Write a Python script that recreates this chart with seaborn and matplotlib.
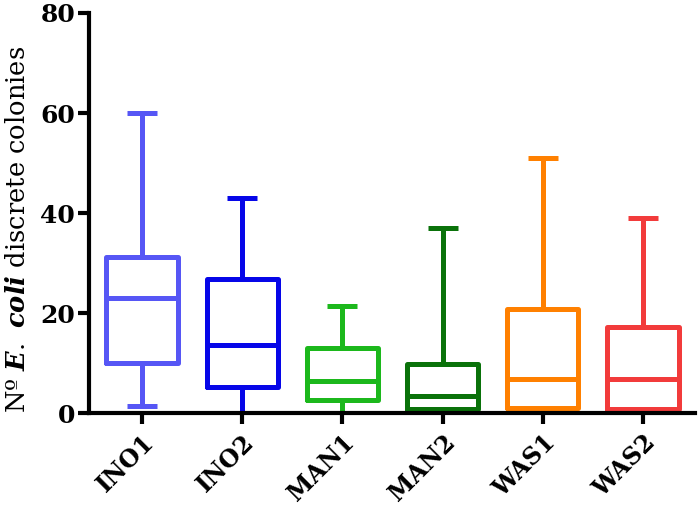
import numpy as np
import pandas as pd
import seaborn as sns
import matplotlib.pyplot as plt

categories = ["INO1", "INO2", "MAN1", "MAN2", "WAS1", "WAS2"]
mins = [1.5, 0, 0, 0, 0, 0]
q1s = [10, 5.2, 2.6, 0.8, 1.0, 0.8]
medians = [23, 13.6, 6.4, 3.4, 6.8, 6.8]
q3s = [31.2, 26.8, 13.0, 9.8, 20.8, 17.2]
maxs = [60, 43, 21.5, 37, 51, 39]
colors = ["#5656F5", "#0606E8", "#1CB81C", "#0A720A", "#FF8000", "#F23B3B"]

rows = []
for c, a, b, m, d, e in zip(categories, mins, q1s, medians, q3s, maxs):
    for v in (a, b, m, d, e):
        rows.append((c, v))
df = pd.DataFrame(rows, columns=["group", "count"])

sns.set_theme(style="ticks")
plt.rcParams["font.family"] = ["DejaVu Serif"]
plt.rcParams["text.color"] = "black"
plt.rcParams["xtick.color"] = "black"
plt.rcParams["ytick.color"] = "black"
plt.rcParams["axes.labelcolor"] = "black"
plt.rcParams["mathtext.fontset"] = "custom"
plt.rcParams["mathtext.rm"] = "DejaVu Serif"
plt.rcParams["mathtext.it"] = "DejaVu Serif:italic:bold"

fig = plt.figure(figsize=(7, 5.19), dpi=100)
ax = fig.add_axes([0.127, 0.204, 0.866, 0.771])
sns.boxplot(data=df, x="group", y="count", hue="group", palette=colors,
            fill=False, whis=(0, 100), width=0.71, linewidth=3.6,
            showfliers=False, legend=False, ax=ax)

# narrow the whisker caps
for ln in ax.lines:
    x = np.asarray(ln.get_xdata(), dtype=float)
    y = np.asarray(ln.get_ydata(), dtype=float)
    if len(x) == 2 and y[0] == y[1]:
        w = abs(x[1] - x[0])
        if 0.2 < w < 0.6:
            c = x.mean()
            ln.set_xdata([c - 0.15, c + 0.15])
            ln.set_solid_capstyle("butt")

ax.set_ylim(0, 80)
ax.set_xlim(-0.53, 5.52)
ax.set_yticks([0, 20, 40, 60, 80])
for side in ["top", "right"]:
    ax.spines[side].set_visible(False)
for side in ["left", "bottom"]:
    ax.spines[side].set_linewidth(3)
    ax.spines[side].set_color("black")
    ax.spines[side].set_zorder(5)
ax.tick_params(axis="both", direction="out", length=8, width=3, color="black")
ax.tick_params(axis="y", labelsize=18, pad=2)
ax.tick_params(axis="x", labelsize=17, pad=4)
for t in ax.get_yticklabels():
    t.set_fontweight("bold")
for t in ax.get_xticklabels():
    t.set_fontweight("bold")
    t.set_rotation(45)
    t.set_ha("right")
    t.set_rotation_mode("anchor")
ax.set_xlabel("")
ax.set_ylabel("Nº $\\mathit{E.\\ coli}$ discrete colonies", fontsize=18.5)
ax.yaxis.set_label_coords(-0.097, 0.46)

fig.savefig("out.png", dpi=100)
